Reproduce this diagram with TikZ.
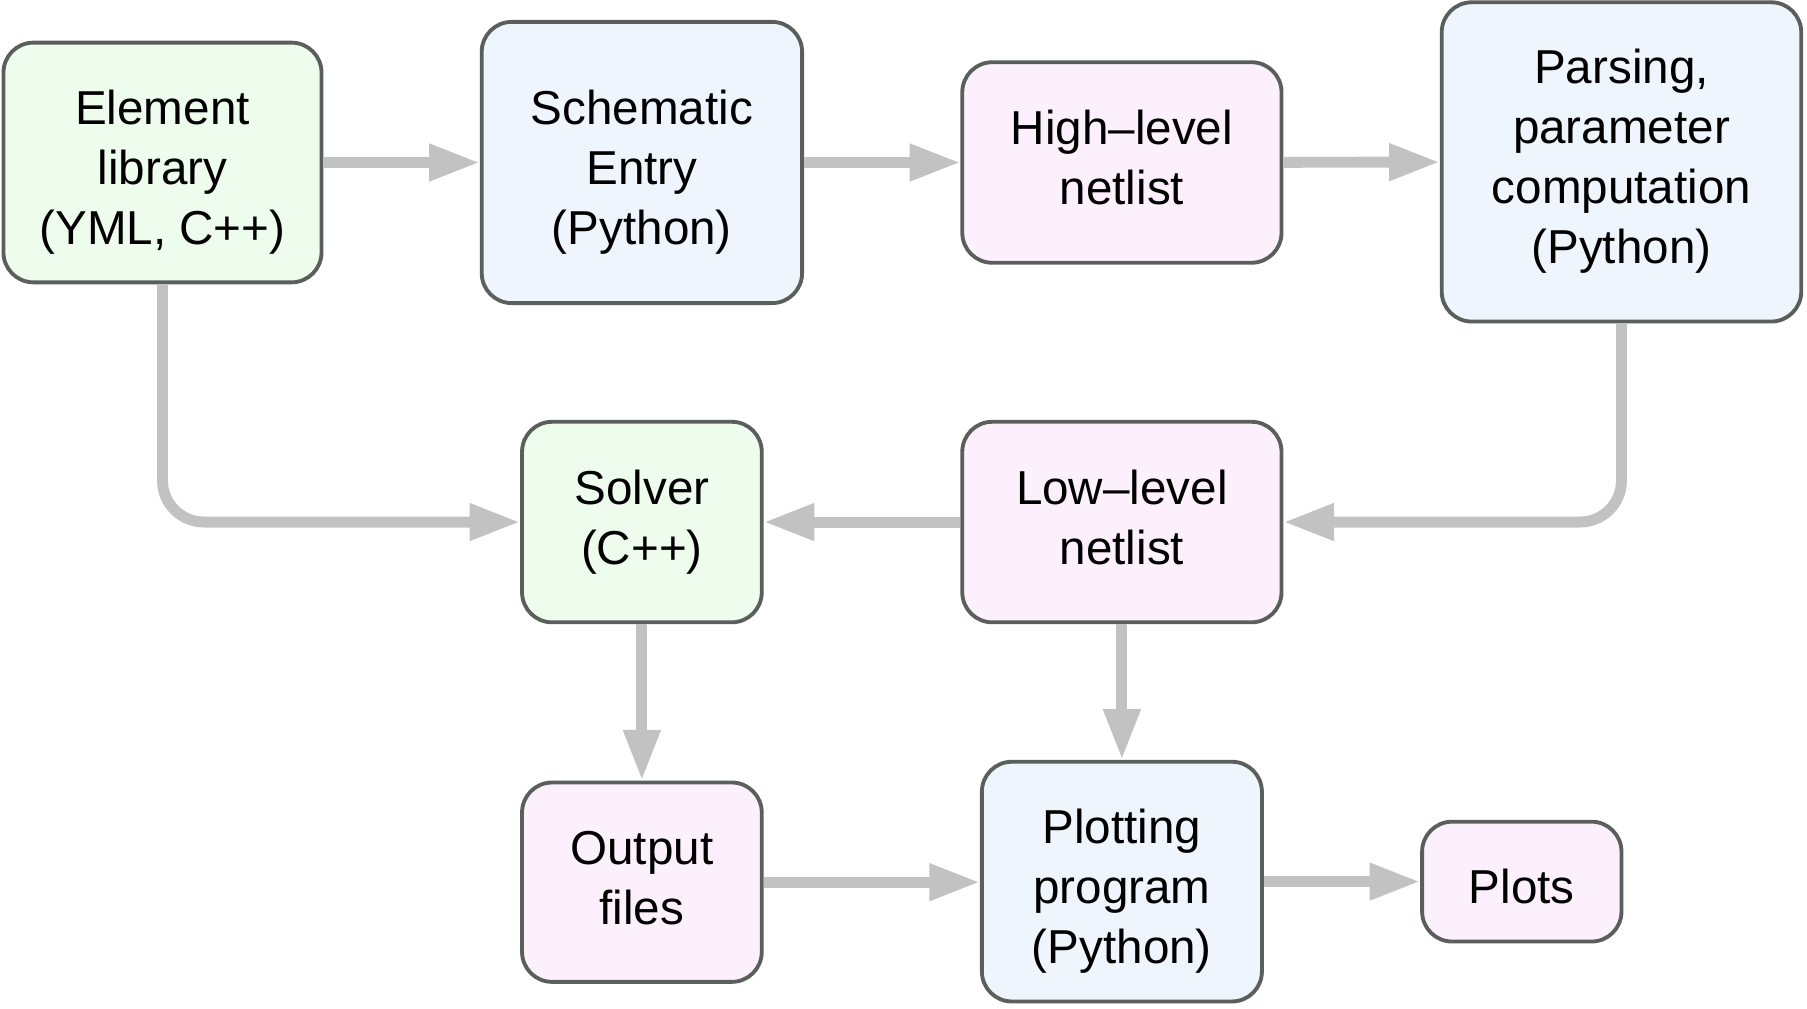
\documentclass[tikz,border=0pt]{standalone}
\usepackage{fontspec}
\setmainfont{Liberation Sans}
\usetikzlibrary{arrows.meta}

\definecolor{libgreen}{HTML}{EEFCEE}
\definecolor{pyblue}{HTML}{EEF5FD}
\definecolor{netpink}{HTML}{FDF0FD}
\definecolor{flowgray}{HTML}{C2C2C2}
\definecolor{edgegray}{HTML}{5A5F5C}

% first-line struts (boxes with two or four lines / with one or three lines)
\newcommand{\boxstrut}{\rule{0pt}{10.36pt}}
\newcommand{\oddstrut}{\rule{0pt}{15.2pt}}

\begin{document}
\begin{tikzpicture}[
  block/.style={draw=edgegray, line width=0.95pt, rounded corners=0.26cm, align=center,
    inner sep=0pt, font=\fontsize{11.75pt}{14.8pt}\selectfont,
    execute at end node={\rule[-4.44pt]{0pt}{0pt}}},
  flow/.style={draw=flowgray, line width=2.7pt, -{Triangle[length=12.5pt, width=8.6pt]}}
]

  \useasboundingbox (0, 0) rectangle (15.68, -8.75);

  % top row
  \node[block, fill=libgreen, minimum width=2.76cm, minimum height=2.08cm] (elem) at (1.41, -1.41) {\oddstrut Element\\library\\(YML, C++)};
  \node[block, fill=pyblue, minimum width=2.78cm, minimum height=2.44cm] (schem) at (5.57, -1.41) {\oddstrut Schematic\\Entry\\(Python)};
  \node[block, fill=netpink, minimum width=2.77cm, minimum height=1.74cm] (high) at (9.735, -1.41) {\boxstrut High–level\\netlist};
  \node[block, fill=pyblue, minimum width=3.12cm, minimum height=2.77cm] (pars) at (14.07, -1.405) {\boxstrut Parsing,\\parameter\\computation\\(Python)};

  % middle row
  \node[block, fill=libgreen, minimum width=2.08cm, minimum height=1.74cm] (solver) at (5.57, -4.53) {\boxstrut Solver\\(C++)};
  \node[block, fill=netpink, minimum width=2.77cm, minimum height=1.74cm] (low) at (9.735, -4.53) {\boxstrut Low–level\\netlist};

  % bottom row
  \node[block, fill=netpink, minimum width=2.08cm, minimum height=1.73cm] (out) at (5.57, -7.655) {\boxstrut Output\\files};
  \node[block, fill=pyblue, minimum width=2.43cm, minimum height=2.08cm] (plot) at (9.735, -7.65) {\oddstrut Plotting\\program\\(Python)};
  \node[block, fill=netpink, minimum width=1.73cm, minimum height=1.04cm] (plots) at (13.205, -7.65) {\oddstrut Plots};

  % connectors
  \draw[flow] (elem) -- (schem);
  \draw[flow] (schem) -- (high);
  \draw[flow] (high) -- (pars);
  \draw[flow, rounded corners=0.36cm] (elem.south) |- (solver.west);
  \draw[flow, rounded corners=0.36cm] (pars.south) |- (low.east);
  \draw[flow] (low) -- (solver);
  \draw[flow] (solver) -- (out);
  \draw[flow] (low) -- (plot);
  \draw[flow] (out.east) -- (plot.west |- out.east);
  \draw[flow] (plot) -- (plots);

\end{tikzpicture}
\end{document}
